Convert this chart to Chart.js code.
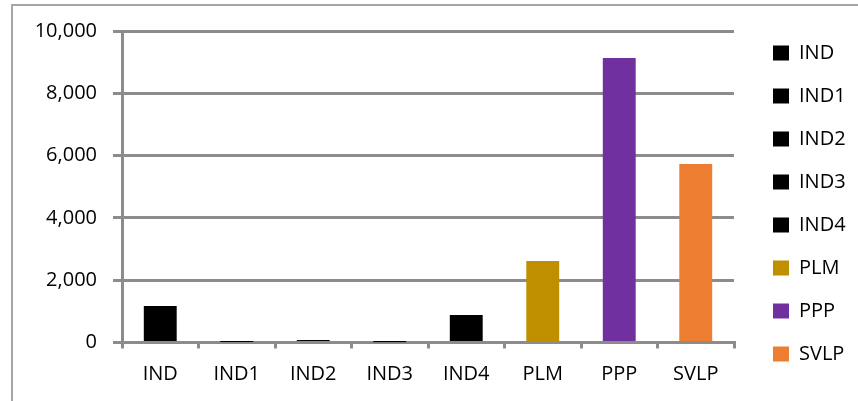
<!DOCTYPE html>
<html>
<head>
<meta charset="utf-8">
<script src="https://cdn.jsdelivr.net/npm/chart.js@4/dist/chart.umd.min.js"></script>
<style>
  html, body { margin: 0; padding: 0; background: #fff; overflow: hidden; }
  .chart-wrap { position: relative; width: 858px; height: 401px; }
  .chart-frame {
    position: absolute; left: 11px; top: 4px; width: 900px; height: 500px;
    border: 2px solid #a6a6a6; box-sizing: border-box;
  }
  #barChart { position: absolute; left: 0; top: 0; }
</style>
</head>
<body>
<div class="chart-wrap">
  <div class="chart-frame"></div>
  <canvas id="barChart" width="858" height="401"></canvas>
</div>
<script>
// Chart data
const categories = ["IND", "IND1", "IND2", "IND3", "IND4", "PLM", "PPP", "SVLP"];
const values = [1170, 15, 80, 10, 880, 2620, 9130, 5730];
const barColors = ["#000000", "#000000", "#000000", "#000000", "#000000", "#BF8F00", "#7030A0", "#ED7D31"];
const yTicks = [0, 2000, 4000, 6000, 8000, 10000];

const gridGray = '#8c8c8c';
const fontFamily = "'Open Sans', 'Noto Sans', sans-serif";

// put legend exactly where it sits in the reference
const legendPlacer = {
  id: 'legendPlacer',
  afterLayout(chart) {
    const lg = chart.legend;
    lg.left = 750;
    lg.right = 858;
    lg.width = 108;
    lg.top = 0;
    lg.bottom = 407;
  }
};

document.addEventListener('DOMContentLoaded', function() {
  const ctx = document.getElementById('barChart').getContext('2d');
  new Chart(ctx, {
    type: 'bar',
    data: {
      labels: categories,
      datasets: [{
        data: values,
        backgroundColor: barColors,
        borderWidth: 0,
        categoryPercentage: 1,
        barPercentage: 0.43
      }]
    },
    options: {
      responsive: false,
      animation: false,
      layout: { padding: { top: 31, right: 34, bottom: 0, left: 0 } },
      plugins: {
        tooltip: { enabled: false },
        legend: {
          position: 'right',
          maxWidth: 90,
          labels: {
            boxWidth: 16,
            boxHeight: 15,
            padding: 23,
            color: '#000',
            font: { family: fontFamily, size: 20 },
            generateLabels: function(chart) {
              return chart.data.labels.map((lbl, i) => ({
                text: lbl,
                fillStyle: barColors[i],
                strokeStyle: barColors[i],
                lineWidth: 0,
                hidden: false,
                index: i
              }));
            }
          }
        }
      },
      scales: {
        x: {
          afterFit: s => { s.height = 58.5; },
          grid: {
            offset: true,
            drawOnChartArea: false,
            tickLength: 6,
            color: gridGray,
            lineWidth: 3
          },
          border: { display: true, color: gridGray, width: 3 },
          ticks: {
            padding: 14,
            color: '#000',
            font: { family: fontFamily, size: 20 }
          }
        },
        y: {
          min: 0,
          max: 10000,
          afterFit: s => { s.width = 122; },
          afterBuildTicks: s => { s.ticks = yTicks.map(v => ({ value: v })); },
          grid: {
            color: gridGray,
            lineWidth: 3,
            tickLength: 9
          },
          border: { display: true, color: gridGray, width: 3 },
          ticks: {
            padding: 16,
            color: '#000',
            font: { family: fontFamily, size: 20 },
            callback: v => v.toLocaleString('en-US')
          }
        }
      }
    },
    plugins: [legendPlacer]
  });
});
</script>
</body>
</html>
